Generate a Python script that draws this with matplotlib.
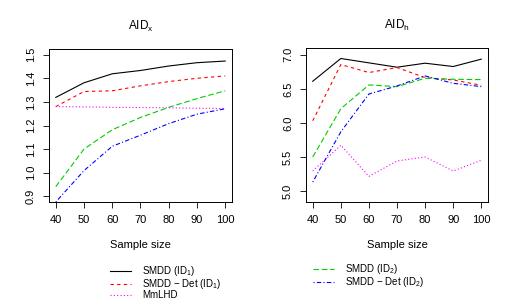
import matplotlib
matplotlib.use('Agg')
import matplotlib.pyplot as plt

plt.rcParams['font.family'] = ['Liberation Sans', 'DejaVu Sans']
plt.rcParams['mathtext.fontset'] = 'custom'
plt.rcParams['mathtext.rm'] = 'Liberation Sans'
plt.rcParams['mathtext.it'] = 'Liberation Sans'

sample_size = [40, 50, 60, 70, 80, 90, 100]

# AID_x panel
aidx_smdd1 = [1.319, 1.381, 1.419, 1.433, 1.452, 1.466, 1.473]
aidx_det1 = [1.280, 1.344, 1.347, 1.368, 1.386, 1.400, 1.410]
aidx_mmlhd = [1.280, 1.279, 1.277, 1.276, 1.275, 1.273, 1.272]
aidx_smdd2 = [0.941, 1.100, 1.182, 1.234, 1.277, 1.314, 1.347]
aidx_det2 = [0.876, 1.009, 1.112, 1.159, 1.208, 1.248, 1.271]

# AID_h panel
aidh_smdd1 = [6.612, 6.946, 6.882, 6.818, 6.877, 6.828, 6.936]
aidh_det1 = [6.032, 6.857, 6.740, 6.813, 6.666, 6.631, 6.553]
aidh_mmlhd = [5.295, 5.673, 5.216, 5.442, 5.501, 5.295, 5.452]
aidh_smdd2 = [5.501, 6.209, 6.558, 6.533, 6.656, 6.641, 6.636]
aidh_det2 = [5.133, 5.870, 6.425, 6.543, 6.690, 6.582, 6.533]

labels = ['SMDD (ID$_1$)', 'SMDD \u2212 Det (ID$_1$)', 'MmLHD',
          'SMDD (ID$_2$)', 'SMDD \u2212 Det (ID$_2$)']
colors = ['black', '#FF0000', '#FF00FF', '#00CD00', '#0000FF']
styles = ['-', (0, (3, 3)), (0, (1, 2)), (0, (5, 2.5)), (0, (1, 2, 4, 2))]

fs = 8
fig = plt.figure(figsize=(5.13, 3.0), dpi=100)
ax1 = fig.add_axes([49/513, 1-202/300, 183/513, 153/300])
ax2 = fig.add_axes([306/513, 1-202/300, 182/513, 154/300])

panels = [
    (ax1, [aidx_smdd1, aidx_det1, aidx_mmlhd, aidx_smdd2, aidx_det2],
     r'AID$_\mathrm{x}$', (0.876, 1.524), [0.9, 1.0, 1.1, 1.2, 1.3, 1.4, 1.5]),
    (ax2, [aidh_smdd1, aidh_det1, aidh_mmlhd, aidh_smdd2, aidh_det2],
     r'AID$_\mathrm{h}$', (4.84, 7.10), [5.0, 5.5, 6.0, 6.5, 7.0]),
]

handles = []
for ax, series, title, ylim, yticks in panels:
    hs = []
    for vals, c, ls in zip(series, colors, styles):
        h, = ax.plot(sample_size, vals, color=c, linestyle=ls, linewidth=0.8)
        hs.append(h)
    handles = hs
    ax.set_xlim(37.6, 102.4)
    ax.set_ylim(*ylim)
    ax.set_xticks(sample_size)
    ax.set_yticks(yticks)
    ax.set_yticklabels([f'{t:.1f}' for t in yticks], rotation=90, va='center')
    ax.tick_params(labelsize=fs, length=4.3, width=0.6, pad=5)
    for sp in ax.spines.values():
        sp.set_linewidth(0.7)
    ax.set_xlabel('Sample size', fontsize=fs, labelpad=11)
    ax.set_title(title, fontsize=8.5, pad=14)

leg_kw = dict(loc='upper left', frameon=False, fontsize=7, handlelength=2.2,
              handletextpad=1.1, labelspacing=-0.1, borderpad=0, borderaxespad=0)
leg1 = fig.legend(handles[:3], labels[:3],
                  bbox_to_anchor=(112/513 - 0.004, 1 - 264/300), **leg_kw)
leg2 = fig.legend(handles[3:], labels[3:],
                  bbox_to_anchor=(315/513 - 0.004, 1 - 262/300), **leg_kw)

fig.savefig('out.png', dpi=100)
